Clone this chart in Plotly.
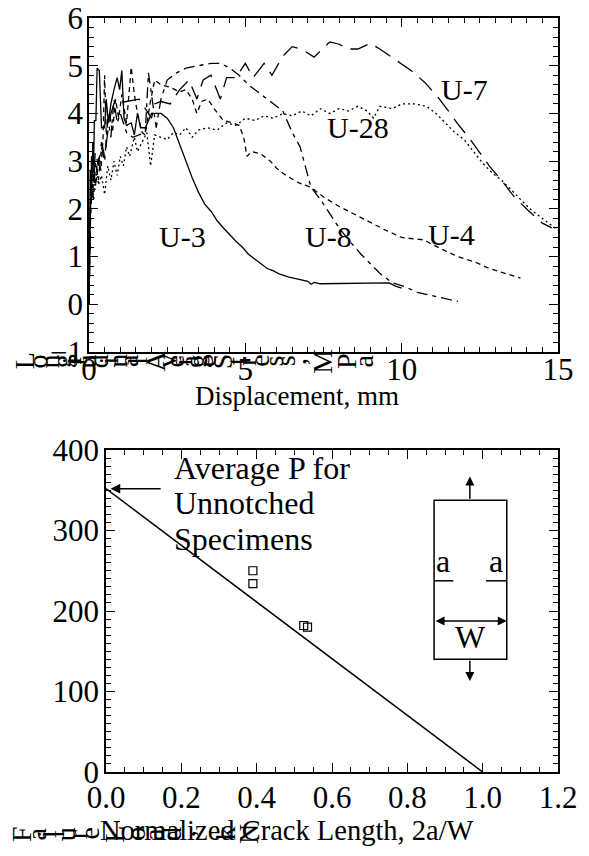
import plotly.graph_objects as go

# page is rendered with the default 8px body margin; keep the figure inside the window
PAGE_W, PAGE_H, OFF = 589, 856, 8
W, H = PAGE_W - 2 * OFF, PAGE_H - 2 * OFF
SERIF = "Liberation Serif, Times New Roman, serif"

# ---------------- top panel data (Displacement mm, stress MPa) ----------------
u3_x = [0, 0.02, 0.04, 0.06, 0.08, 0.10, 0.12, 0.15, 0.17, 0.22, 0.26, 0.33, 0.40, 0.50, 0.55, 0.62,
        0.70, 0.80, 0.90, 0.98, 1.05, 1.12, 1.20, 1.35, 1.45, 1.55, 1.65, 1.80, 1.90, 2.00, 2.30, 2.50,
        2.70, 2.90, 3.10, 3.30, 3.50, 3.70, 3.90, 4.10, 4.30, 4.50, 4.70, 4.90, 5.10, 5.30, 5.50, 5.70,
        5.90, 6.10, 6.40, 6.70, 7.00, 7.10, 7.20, 7.40, 9.60, 9.80, 10.0]
u3_y = [0, 1.8, 2.8, 2.3, 3.1, 2.6, 3.4, 2.9, 3.85, 3.85, 4.95, 4.9, 3.7, 3.7, 4.3, 3.8,
        4.2, 4.5, 4.75, 4.5, 4.9, 3.9, 3.75, 3.8, 3.55, 4.0, 3.7, 3.7, 3.85, 4.0, 4.0, 3.9,
        3.7, 3.35, 3.0, 2.65, 2.35, 2.1, 1.95, 1.75, 1.6, 1.45, 1.32, 1.2, 1.05, 0.95, 0.85, 0.75,
        0.7, 0.63, 0.57, 0.52, 0.48, 0.42, 0.46, 0.43, 0.45, 0.38, 0.34]

u4_x = [0, 0.04, 0.08, 0.12, 0.16, 0.22, 0.30, 0.38, 0.45, 0.50, 0.55, 0.65, 0.75, 0.85, 0.95, 1.05,
        1.20, 1.35, 1.45, 1.55, 1.70, 1.80, 1.95, 2.10, 2.30, 2.60, 2.90, 3.10, 3.30, 3.45, 3.60, 3.80,
        4.00, 4.30, 4.60, 4.80, 4.95, 5.05, 5.20, 5.50, 5.80, 6.00, 6.30, 6.70, 7.10, 7.50, 8.00, 8.60,
        9.00, 9.50, 10.0, 10.7, 11.3, 11.8, 12.4, 12.8, 13.3, 13.8]
u4_y = [0, 2.0, 2.6, 2.3, 2.9, 2.5, 3.1, 2.8, 3.5, 4.8, 3.6, 4.0, 3.6, 4.3, 3.9, 4.4,
        3.8, 4.97, 4.4, 4.0, 3.6, 3.55, 4.2, 4.7, 4.6, 4.55, 4.45, 4.5, 4.3, 4.0, 4.25, 4.3,
        4.1, 3.85, 3.8, 3.75, 3.5, 3.1, 3.2, 3.15, 3.0, 2.85, 2.7, 2.55, 2.45, 2.25, 2.05, 1.85,
        1.7, 1.55, 1.4, 1.35, 1.15, 1.0, 0.87, 0.75, 0.65, 0.55]

u7_x = [0, 0.05, 0.10, 0.15, 0.20, 0.30, 0.40, 0.50, 0.60, 0.70, 0.80, 1.20, 1.60, 1.80, 2.00, 2.10,
        2.30, 2.60, 2.90, 3.20, 3.45, 3.65, 3.90, 4.20, 4.40, 4.70, 5.00, 5.25, 5.60, 5.85, 6.20, 6.50,
        6.80, 7.20, 7.70, 8.00, 8.30, 8.60, 9.00, 9.30, 9.85, 10.3, 10.74, 11.16, 11.5, 11.77, 12.2, 12.8,
        13.24, 13.6, 14.04, 14.5, 14.8]
u7_y = [0, 2.0, 2.9, 2.6, 3.2, 2.9, 3.4, 3.1, 3.6, 4.0, 4.2, 4.25, 4.3, 4.1, 3.9, 4.2,
        4.25, 4.2, 4.5, 4.7, 4.3, 4.7, 4.8, 4.3, 4.75, 4.75, 5.05, 4.75, 5.05, 4.8, 5.2, 5.4,
        5.35, 5.18, 5.5, 5.45, 5.35, 5.35, 5.47, 5.35, 5.1, 4.9, 4.65, 4.34, 4.05, 3.8, 3.45, 2.9,
        2.56, 2.25, 1.97, 1.7, 1.6]

u8_x = [0, 0.05, 0.10, 0.15, 0.20, 0.30, 0.40, 0.50, 0.60, 0.70, 0.80, 0.90, 1.00, 1.20, 1.40, 1.60,
        1.80, 1.90, 2.05, 2.15, 2.30, 2.50, 2.80, 3.10, 3.50, 3.90, 4.20, 4.50, 4.80, 5.10, 5.40, 5.70,
        6.20, 6.50, 6.75, 7.10, 7.40, 7.70, 8.00, 8.30, 8.70, 9.00, 9.30, 9.70, 10.1, 10.5, 11.0, 11.4,
        11.8]
u8_y = [0, 1.8, 2.5, 2.2, 3.0, 2.6, 3.3, 3.0, 3.9, 3.5, 4.3, 3.8, 4.0, 3.6, 3.5, 3.55,
        3.6, 4.85, 4.2, 3.7, 4.3, 4.7, 4.85, 4.95, 5.0, 5.05, 5.05, 4.95, 4.8, 4.6, 4.45, 4.3,
        4.05, 3.6, 3.3, 2.45, 2.2, 1.9, 1.6, 1.35, 1.05, 0.85, 0.65, 0.45, 0.37, 0.25, 0.18, 0.13,
        0.06]

u28_x = [0, 0.03, 0.06, 0.10, 0.15, 0.20, 0.25, 0.30, 0.40, 0.50, 0.60, 0.70, 0.80, 0.90, 1.00, 1.10,
         1.20, 1.30, 1.45, 1.55, 1.70, 1.85, 1.97, 2.10, 2.30, 2.50, 2.70, 2.90, 3.10, 3.30, 3.50, 3.80,
         4.10, 4.40, 4.70, 5.00, 5.30, 5.60, 5.90, 6.20, 6.50, 6.80, 7.10, 7.40, 7.70, 8.00, 8.30, 8.60,
         8.90, 9.10, 9.30, 9.70, 10.0, 10.4, 10.8, 11.1, 11.4, 11.7, 12.0, 12.3, 12.6, 12.9, 13.2, 13.5,
         13.8, 14.1, 14.4, 14.7, 15.0]
u28_y = [0, 1.5, 2.6, 2.2, 2.8, 2.4, 2.9, 2.5, 2.7, 2.3, 2.9, 2.6, 3.0, 2.7, 3.1, 2.9,
         3.3, 3.1, 3.5, 3.2, 3.4, 3.6, 2.9, 3.55, 3.5, 3.45, 3.6, 3.55, 3.7, 3.5, 3.65, 3.7,
         3.65, 3.8, 3.75, 3.9, 3.85, 3.95, 3.9, 4.0, 3.95, 4.05, 3.95, 4.1, 4.0, 4.1, 4.05, 4.15,
         4.05, 3.9, 4.15, 4.1, 4.2, 4.2, 4.15, 4.0, 3.8, 3.6, 3.45, 3.2, 2.95, 2.75, 2.6, 2.4,
         2.2, 2.0, 1.85, 1.7, 1.55]

top_labels = ["U-3", "U-8", "U-4", "U-28", "U-7"]
top_label_x = [3.0, 7.65, 11.6, 8.6, 12.0]
top_label_y = [1.42, 1.42, 1.47, 3.7, 4.5]

# ---------------- bottom panel data ----------------
crack_x = [0.39, 0.39, 0.525, 0.535]
load_y = [250, 234, 182, 180]
unnotched_avg = 352
fit_x = [0.0, 1.0]
fit_y = [unnotched_avg, 0]

fig = go.Figure()

dash_styles = {"U-3": "solid", "U-4": "5px,4px", "U-7": "18px,9px", "U-8": "11px,5px,4px,5px", "U-28": "2px,3px"}
for name, xs, ys in [("U-28", u28_x, u28_y), ("U-4", u4_x, u4_y), ("U-8", u8_x, u8_y),
                     ("U-7", u7_x, u7_y), ("U-3", u3_x, u3_y)]:
    fig.add_trace(go.Scatter(x=xs, y=ys, mode="lines", name=name, showlegend=False,
                             line=dict(color="black", width=1.3, dash=dash_styles[name]),
                             xaxis="x", yaxis="y"))

fig.add_trace(go.Scatter(x=fit_x, y=fit_y, mode="lines", showlegend=False,
                         line=dict(color="black", width=1.5), xaxis="x2", yaxis="y2"))
fig.add_trace(go.Scatter(x=crack_x, y=load_y, mode="markers", showlegend=False,
                         marker=dict(symbol="square-open", size=8, color="black", line=dict(width=1.2)),
                         xaxis="x2", yaxis="y2"))

def px_x(p):
    return (p - OFF) / W

def px_y(p):
    return 1 - (p - OFF) / H

tick_font = dict(family=SERIF, size=31, color="black")
axis_common = dict(showline=True, linewidth=1.5, linecolor="black", mirror="ticks", ticks="inside",
                   ticklen=9, tickwidth=1.3, tickcolor="black", showgrid=False, zeroline=False,
                   tickfont=tick_font, automargin=False, ticklabeloverflow="allow")
minor_common = dict(ticklen=5, ticks="inside", tickcolor="black", tickwidth=1)

fig.update_layout(
    width=W, height=H, margin=dict(l=0, r=0, t=0, b=0, autoexpand=False),
    paper_bgcolor="white", plot_bgcolor="white", showlegend=False,
    xaxis=dict(domain=[px_x(89), px_x(558)], range=[0, 15], dtick=5, anchor="y", ticklabelstandoff=-11,
               minor=dict(dtick=0.5, **minor_common), **axis_common),
    yaxis=dict(domain=[px_y(352), px_y(18)], range=[-1, 6], dtick=1, anchor="x", ticklabelstandoff=-2,
               minor=dict(dtick=0.2, **minor_common), **axis_common),
    xaxis2=dict(domain=[px_x(106), px_x(558)], range=[0, 1.2], dtick=0.2, tickformat=".1f", anchor="y2",
                ticklabelstandoff=-3, minor=dict(dtick=0.05, **minor_common), **axis_common),
    yaxis2=dict(domain=[px_y(772), px_y(450)], range=[0, 400], dtick=100, anchor="x2", ticklabelstandoff=-1,
                minor=dict(dtick=10, **minor_common), **axis_common),
)

anns = []
lab_font = dict(family=SERIF, size=30, color="black")
note_font = dict(family=SERIF, size=32, color="black")
for t, x, y in zip(top_labels, top_label_x, top_label_y):
    anns.append(dict(text=t, x=x, y=y, xref="x", yref="y", showarrow=False, font=lab_font))

# axis titles
anns.append(dict(text="Displacement, mm", x=px_x(297), y=px_y(396), xref="paper", yref="paper",
                 xanchor="center", yanchor="middle", showarrow=False,
                 font=dict(family=SERIF, size=27, color="black")))
anns.append(dict(text="Normalized Crack Length, 2a/W", x=px_x(287), y=px_y(830), xref="paper", yref="paper",
                 xanchor="center", yanchor="middle", showarrow=False,
                 font=dict(family=SERIF, size=28.5, color="black")))

# garbled (per-character rotated) y titles
TIMES_W = {' ': 250, ',': 250, '.': 250, 'A': 722, 'F': 556, 'L': 611, 'M': 889, 'N': 722, 'P': 556,
           'S': 556, 'a': 444, 'd': 500, 'e': 444, 'g': 500, 'i': 278, 'k': 500, 'l': 278, 'n': 500,
           'o': 500, 'r': 333, 's': 389, 't': 278, 'u': 500, 'v': 500}

def glyph_annotations(words, y_px, size):
    out = []
    for word, x0, x1 in words:
        ws = [TIMES_W.get(c, 500) for c in word]
        k = (x1 - x0) / sum(ws)
        cum = 0
        for c, w in zip(word, ws):
            cx = x0 + (cum + w / 2) * k
            cum += w
            out.append(dict(text=c, x=px_x(cx), y=px_y(y_px), xref="paper", yref="paper", showarrow=False,
                            textangle=-90, xanchor="center", yanchor="middle",
                            font=dict(family=SERIF, size=size, color="black")))
    return out

anns += glyph_annotations([("Longitudinal", 17, 140), ("Average", 148, 210), ("Stress,", 213, 300),
                           ("MPa", 307, 370)], 361, 28)
anns += glyph_annotations([("Failure", 13, 95), ("Load,", 102, 190), ("kN", 215, 262)], 834, 28)

# bottom annotation text + arrow
for i, line in enumerate(["Average P for", "Unnotched", "Specimens"]):
    anns.append(dict(text=line, x=0.175, y=[377.5, 334, 290][i], xref="x2", yref="y2", showarrow=False,
                     xanchor="left", yanchor="middle", font=note_font))
anns.append(dict(text="", x=0.012, y=unnotched_avg, ax=0.149, ay=unnotched_avg, xref="x2", yref="y2",
                 axref="x2", ayref="y2", showarrow=True, arrowhead=2, arrowsize=1.3, arrowwidth=1.5,
                 arrowcolor="black"))

# inset specimen sketch
RECT = dict(x0=0.871, x1=1.064, y0=140, y1=337.5)
XC = 0.966
anns.append(dict(text="", x=XC, y=367, ax=XC, ay=RECT["y1"], xref="x2", yref="y2", axref="x2", ayref="y2",
                 showarrow=True, arrowhead=2, arrowsize=1.2, arrowwidth=1.5, arrowcolor="black"))
anns.append(dict(text="", x=XC, y=113, ax=XC, ay=RECT["y0"], xref="x2", yref="y2", axref="x2", ayref="y2",
                 showarrow=True, arrowhead=2, arrowsize=1.2, arrowwidth=1.5, arrowcolor="black"))
anns.append(dict(text="", x=RECT["x1"], y=187.5, ax=RECT["x0"], ay=187.5, xref="x2", yref="y2", axref="x2",
                 ayref="y2", showarrow=True, arrowhead=2, arrowside="end+start", arrowsize=1.2, arrowwidth=1.5,
                 arrowcolor="black"))
anns.append(dict(text="a", x=0.896, y=237.5, xref="x2", yref="y2", showarrow=False, yanchor="bottom",
                 font=note_font))
anns.append(dict(text="a", x=1.036, y=237.5, xref="x2", yref="y2", showarrow=False, yanchor="bottom",
                 font=note_font))
anns.append(dict(text="W", x=0.968, y=168, xref="x2", yref="y2", showarrow=False, font=note_font))

shapes = [
    dict(type="rect", xref="x2", yref="y2", line=dict(color="black", width=1.5), **RECT),
    dict(type="line", xref="x2", yref="y2", x0=RECT["x0"], x1=0.922, y0=237.5, y1=237.5,
         line=dict(color="black", width=1.5)),
    dict(type="line", xref="x2", yref="y2", x0=1.009, x1=RECT["x1"], y0=237.5, y1=237.5,
         line=dict(color="black", width=1.5)),
]

fig.update_layout(annotations=anns, shapes=shapes)
fig.write_html("out.html")
